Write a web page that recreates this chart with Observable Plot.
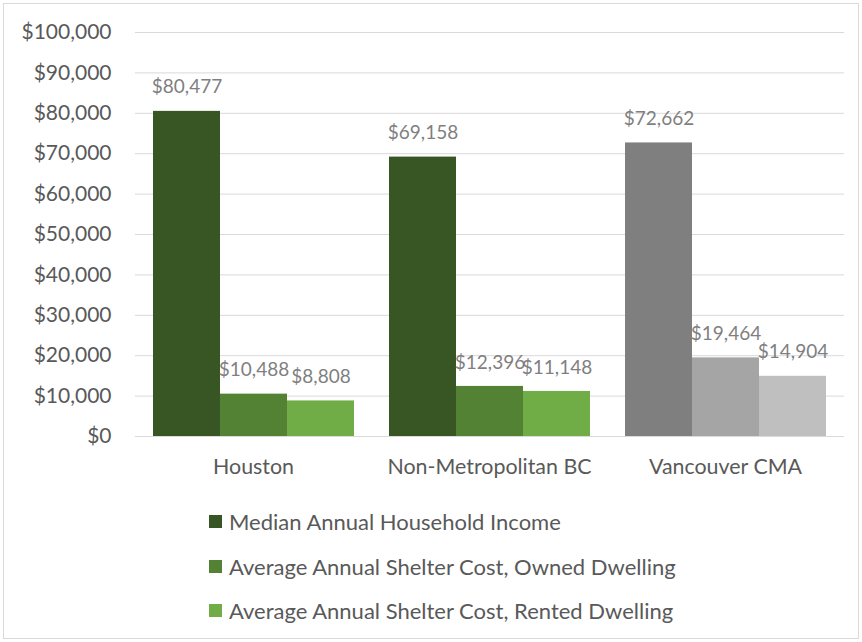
<!DOCTYPE html>
<html><head><meta charset="utf-8">
<script src="https://cdn.jsdelivr.net/npm/d3@7"></script>
<script src="https://cdn.jsdelivr.net/npm/@observablehq/plot@0.6"></script>
<style>
html,body{margin:0;padding:0;background:#fff;}
#wrap{position:relative;width:862px;height:642px;overflow:hidden;font-family:Lato,sans-serif;}
#frame{position:absolute;left:3px;top:3px;width:856px;height:636px;border:1px solid #d9d9d9;box-sizing:border-box}
#back,#front{position:absolute;left:0;top:0;}
.leg{position:absolute;left:209px;display:flex;align-items:center;height:26px;font-size:22px;color:#595959;white-space:nowrap}
.sw{width:13px;height:13px;margin-right:7px;display:inline-block}
#back g[aria-label^="y-axis"] text{font-size:21px;fill:#595959}
#front g[aria-label^="fx-axis"] text{font-size:21.4px;fill:#595959}
</style></head>
<body>
<div id="wrap"><div id="frame"></div><div id="back"></div><div id="front"></div><div id="legend"></div></div>
<script>
const regions = ["Houston", "Non-Metropolitan BC", "Vancouver CMA"];
const series = ["Median Annual Household Income", "Average Annual Shelter Cost, Owned Dwelling", "Average Annual Shelter Cost, Rented Dwelling"];
const income = [80477, 69158, 72662];
const owned = [10488, 12396, 19464];
const rented = [8808, 11148, 14904];
const yTicks = [0, 10000, 20000, 30000, 40000, 50000, 60000, 70000, 80000, 90000, 100000];

const greens = ["#375623", "#548235", "#70ad47"];
const grays = ["#7f7f7f", "#a5a5a5", "#bfbfbf"];
const highlight = "Vancouver CMA";

const valuesBySeries = [income, owned, rented];
const rows = [];
regions.forEach((r, ri) => series.forEach((s, si) => rows.push({region: r, series: s, si, value: valuesBySeries[si][ri]})));

const money = v => "$" + d3.format(",")(v);
const fillOf = d => (d.region === highlight ? grays : greens)[d.si];

const frameOpts = {
  width: 862,
  height: 490,
  marginLeft: 135,
  marginRight: 18,
  marginTop: 32,
  marginBottom: 54,
  style: {fontFamily: "Lato, sans-serif", fontSize: "20px", color: "#595959", background: "transparent"}
};

// background: gridlines and y axis across the full plot width
const back = Plot.plot({
  ...frameOpts,
  x: {axis: null},
  y: {domain: [0, 100000], ticks: yTicks, tickFormat: money, tickSize: 0, tickPadding: 24, label: null},
  marks: [
    Plot.ruleY(yTicks, {stroke: "#d9d9d9", strokeWidth: 1})
  ]
});
document.getElementById("back").appendChild(back);

// foreground: grouped bars faceted by region
const front = Plot.plot({
  ...frameOpts,
  fx: {domain: regions, paddingInner: 0.144, paddingOuter: 0.072, label: null, tickSize: 0, tickPadding: 22, axis: "bottom"},
  x: {domain: series, padding: 0, axis: null},
  y: {domain: [0, 100000], axis: null},
  marks: [
    Plot.barY(rows, {fx: "region", x: "series", y: "value", fill: fillOf, inset: 0}),
    Plot.text(rows, {fx: "region", x: "series", y: "value", text: d => money(d.value), dy: -24, fill: "#7f7f7f", fontSize: 19})
  ]
});
document.getElementById("front").appendChild(front);

const legend = document.getElementById("legend");
const legTops = [508, 553, 597];
series.forEach((s, i) => {
  const row = document.createElement("div");
  row.className = "leg";
  row.style.top = legTops[i] + "px";
  const sw = document.createElement("span");
  sw.className = "sw";
  sw.style.background = greens[i];
  row.appendChild(sw);
  row.appendChild(document.createTextNode(s));
  legend.appendChild(row);
});
</script>
</body></html>
